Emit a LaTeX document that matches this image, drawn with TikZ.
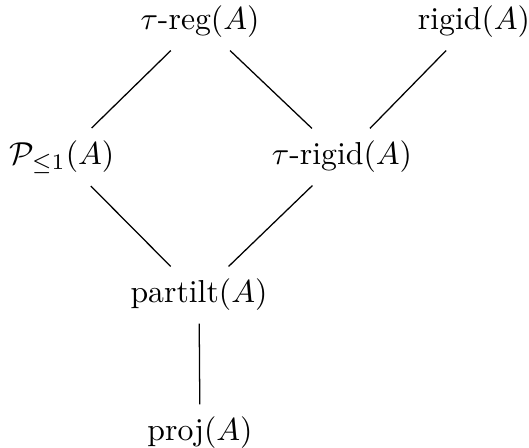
\documentclass[tikz,border=0pt]{standalone}
\usepackage{amsmath}
\begin{document}
\begin{tikzpicture}[x=0.315pt,y=-0.315pt,
  obj/.style={inner sep=4pt, outer sep=0pt},
  edge/.style={draw, line width=0.4pt}]
\useasboundingbox (0,0) rectangle (529,448);
\node[obj] (treg)    at (200,22)  {$\tau\text{-reg}(A)$};
\node[obj] (rigid)   at (474,22)  {$\text{rigid}(A)$};
\node[obj] (P)       at (62,157)  {$\mathcal{P}_{\leq 1}(A)$};
\node[obj] (trigid)  at (342,157) {$\tau\text{-rigid}(A)$};
\node[obj] (partilt) at (199,295) {$\text{partilt}(A)$};
\node[obj] (proj)    at (200,433) {$\text{proj}(A)$};
\draw[edge] (treg) -- (P);
\draw[edge] (treg) -- (trigid);
\draw[edge] (rigid) -- (trigid);
\draw[edge] (P) -- (partilt);
\draw[edge] (trigid) -- (partilt);
\draw[edge] (partilt) -- (proj);
\end{tikzpicture}
\end{document}
